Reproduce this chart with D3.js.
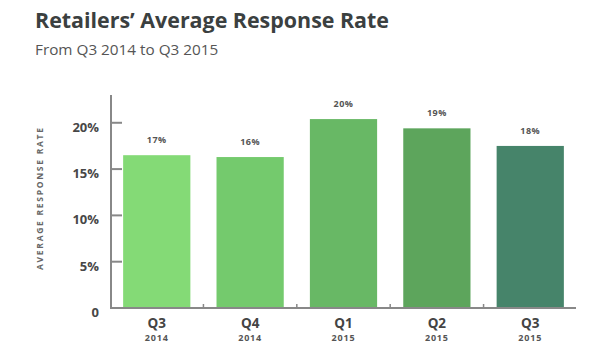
<!DOCTYPE html>
<html>
<head>
<meta charset="utf-8">
<script src="https://cdn.jsdelivr.net/npm/d3@7"></script>
<style>
html,body{margin:0;padding:0;background:#fff;}
svg{display:block;font-family:"Open Sans",sans-serif;}
</style>
</head>
<body>
<svg id="chart" width="600" height="355"></svg>
<script>
const quarters = ["Q3", "Q4", "Q1", "Q2", "Q3"];
const years = ["2014", "2014", "2015", "2015", "2015"];
const rates = [16.5, 16.3, 20.4, 19.4, 17.5];
const rateLabels = ["17%", "16%", "20%", "19%", "18%"];
const barColors = ["#84da76", "#74ca6d", "#68b865", "#5da55c", "#46846a"];
const yTicks = [0, 5, 10, 15, 20];

const svg = d3.select("#chart");
const mLeft = 111, mRight = 576, mTop = 95, mBottom = 308;

svg.append("text").attr("x", 35).attr("y", 28)
  .attr("font-size", 21.5).attr("font-weight", 700).attr("fill", "#3b4040")
  .attr("textLength", 354).attr("lengthAdjust", "spacingAndGlyphs")
  .text("Retailers’ Average Response Rate");
svg.append("text").attr("x", 35).attr("y", 55)
  .attr("font-size", 15.3).attr("fill", "#555").text("From Q3 2014 to Q3 2015");

const idx = d3.range(rates.length);
const x = d3.scaleBand().domain(idx).range([mLeft, mRight]).paddingInner(0.28).paddingOuter(0.13);
const y = d3.scaleLinear().domain([0, 23]).range([mBottom, mTop]);

// bars
svg.append("g").selectAll("rect").data(idx).join("rect")
  .attr("x", i => x(i)).attr("width", x.bandwidth())
  .attr("y", i => y(rates[i])).attr("height", i => mBottom - y(rates[i]))
  .attr("fill", i => barColors[i]);

// value labels
svg.append("g").selectAll("text").data(idx).join("text")
  .attr("x", i => x(i) + x.bandwidth() / 2).attr("y", i => y(rates[i]) - 12)
  .attr("text-anchor", "middle").attr("font-size", 9).attr("font-weight", 700)
  .attr("letter-spacing", 0.5).attr("fill", "#555").text(i => rateLabels[i]);

// y axis
const yAxis = svg.append("g");
yAxis.append("line").attr("x1", mLeft).attr("x2", mLeft).attr("y1", mTop).attr("y2", mBottom)
  .attr("stroke", "#888").attr("stroke-width", 2);
yAxis.selectAll(".tk").data(yTicks.filter(d => d > 0)).join("line")
  .attr("x1", mLeft).attr("x2", mLeft + 11).attr("y1", d => y(d)).attr("y2", d => y(d))
  .attr("stroke", "#888").attr("stroke-width", 2);
yAxis.selectAll("text").data(yTicks).join("text")
  .attr("x", 99).attr("y", d => y(d) + 9).attr("text-anchor", "end")
  .attr("font-size", 13).attr("font-weight", 700).attr("fill", "#474747")
  .text(d => d === 0 ? "0" : d + "%");

// x axis
const xAxis = svg.append("g");
xAxis.append("line").attr("x1", mLeft - 1).attr("x2", mRight).attr("y1", mBottom).attr("y2", mBottom)
  .attr("stroke", "#888").attr("stroke-width", 2);
const step = x.step();
xAxis.selectAll(".tk").data(idx.slice(1)).join("line")
  .attr("x1", i => x(i) - (step - x.bandwidth()) / 2).attr("x2", i => x(i) - (step - x.bandwidth()) / 2)
  .attr("y1", mBottom).attr("y2", mBottom - 4)
  .attr("stroke", "#888").attr("stroke-width", 1.5);
xAxis.selectAll(".q").data(idx).join("text")
  .attr("x", i => x(i) + x.bandwidth() / 2).attr("y", 328)
  .attr("text-anchor", "middle").attr("font-size", 13.5).attr("font-weight", 700).attr("fill", "#444")
  .text(i => quarters[i]);
xAxis.selectAll(".yr").data(idx).join("text")
  .attr("x", i => x(i) + x.bandwidth() / 2).attr("y", 341)
  .attr("text-anchor", "middle").attr("font-size", 9).attr("font-weight", 700)
  .attr("letter-spacing", 0.8).attr("fill", "#555")
  .text(i => years[i]);

// y axis title
svg.append("text").attr("transform", "translate(43,199) rotate(-90)")
  .attr("text-anchor", "middle").attr("font-size", 8.5).attr("font-weight", 700)
  .attr("textLength", 142).attr("lengthAdjust", "spacing")
  .attr("fill", "#666").text("AVERAGE RESPONSE RATE");
</script>
</body>
</html>
